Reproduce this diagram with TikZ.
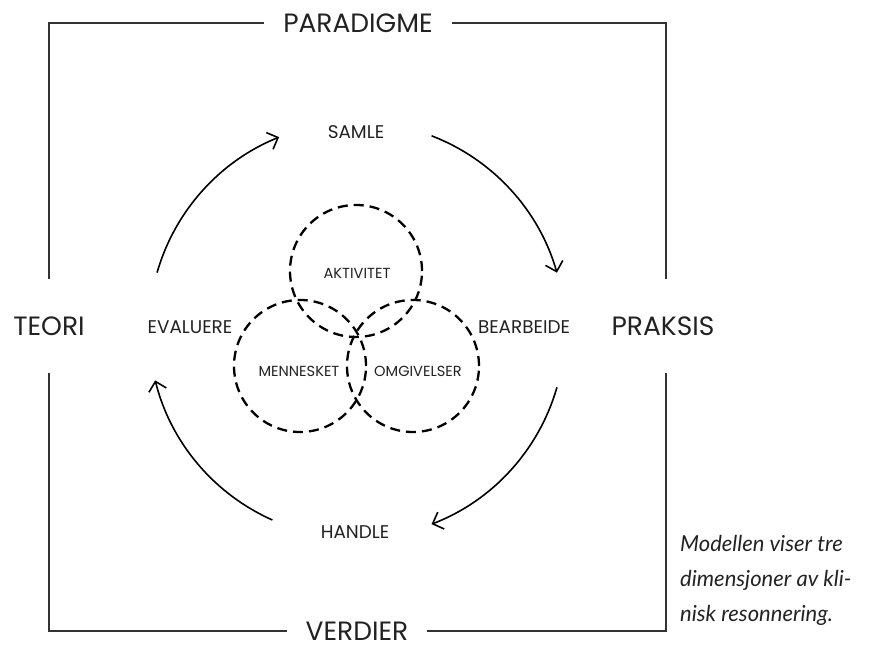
\documentclass[tikz,border=0pt]{standalone}
\usepackage{fontspec}
\setmainfont{Poppins}
\newfontfamily\capfont{Lato}
\usetikzlibrary{arrows.meta,calc}
\definecolor{ink}{HTML}{222222}
\definecolor{framecol}{HTML}{333333}
\begin{document}
\begin{tikzpicture}[x=1pt,y=1pt,
  big/.style={font=\fontsize{26.5}{30}\selectfont, text=ink, inner sep=0pt},
  mid/.style={font=\fontsize{18.4}{22}\selectfont, text=ink, inner sep=0pt},
  small/.style={font=\fontsize{14.6}{17}\selectfont, text=ink, inner sep=0pt},
  frameline/.style={draw=framecol, line width=1.6pt},
  ring/.style={circle, draw=black, line width=2.3pt, dash pattern=on 10pt off 6pt, minimum size=132pt, inner sep=0pt},
  cyc/.style={draw=black, line width=1.6pt, -{Straight Barb[length=9pt,width=18pt,line width=1.6pt]}}
]
\useasboundingbox (0,0) rectangle (878,648);
% frame labels
\node[big, inner xsep=19pt] (PAR) at (358,625) {PARADIGME};
\node[big, inner xsep=19pt] (VER) at (357,17) {VERDIER};
\node[big, inner ysep=37pt] (TEO) at (49,322) {TEORI};
\node[big, inner ysep=37pt] (PRA) at (663,322) {PRAKSIS};
% frame corners
\coordinate (tl) at (49,625);
\coordinate (tr) at (666,625);
\coordinate (br) at (666,17);
\coordinate (bl) at (49,17);
\draw[frameline] (TEO) -- (tl) -- (PAR);
\draw[frameline] (PAR) -- (tr) -- (tr |- PRA.north);
\draw[frameline] (br |- PRA.south) -- (br) -- (VER);
\draw[frameline] (VER) -- (bl) -- (TEO);
% cycle labels
\node[mid] (SAM) at (356,516) {SAMLE};
\node[mid] (HAN) at (355,116) {HANDLE};
\node[mid] (EVA) at (190,321) {EVALUERE};
\node[mid] (BEA) at (524,321) {BEARBEIDE};
% cycle arcs
\coordinate (C) at (357,318);
\coordinate (s1) at ($(C)+(164:208)$);
\coordinate (s2) at ($(C)+(69:208)$);
\coordinate (s3) at ($(C)+(-16:208)$);
\coordinate (s4) at ($(C)+(-114:208)$);
\draw[cyc] (s1) arc[start angle=164, end angle=112, radius=208];
\draw[cyc] (s2) arc[start angle=69, end angle=16, radius=208];
\draw[cyc] (s3) arc[start angle=-16, end angle=-69, radius=208];
\draw[cyc] (s4) arc[start angle=-114, end angle=-166, radius=208];
% circles
\node[ring] (cA) at (356,377) {};
\node[ring] (cM) at (300,282) {};
\node[ring] (cO) at (413,282) {};
\node[small] (AKT) at (357,375) {AKTIVITET};
\node[small] (MEN) at (299,277) {MENNESKET};
\node[small] (OMG) at (418,277) {OMGIVELSER};
% caption
\node[anchor=west, align=left, inner sep=0pt, text=ink,
      font=\capfont\itshape\fontsize{22}{35}\selectfont] (CAP) at (680,68)
  {Modellen viser tre\\dimensjoner av kli-\\nisk resonnering.};
\end{tikzpicture}
\end{document}
